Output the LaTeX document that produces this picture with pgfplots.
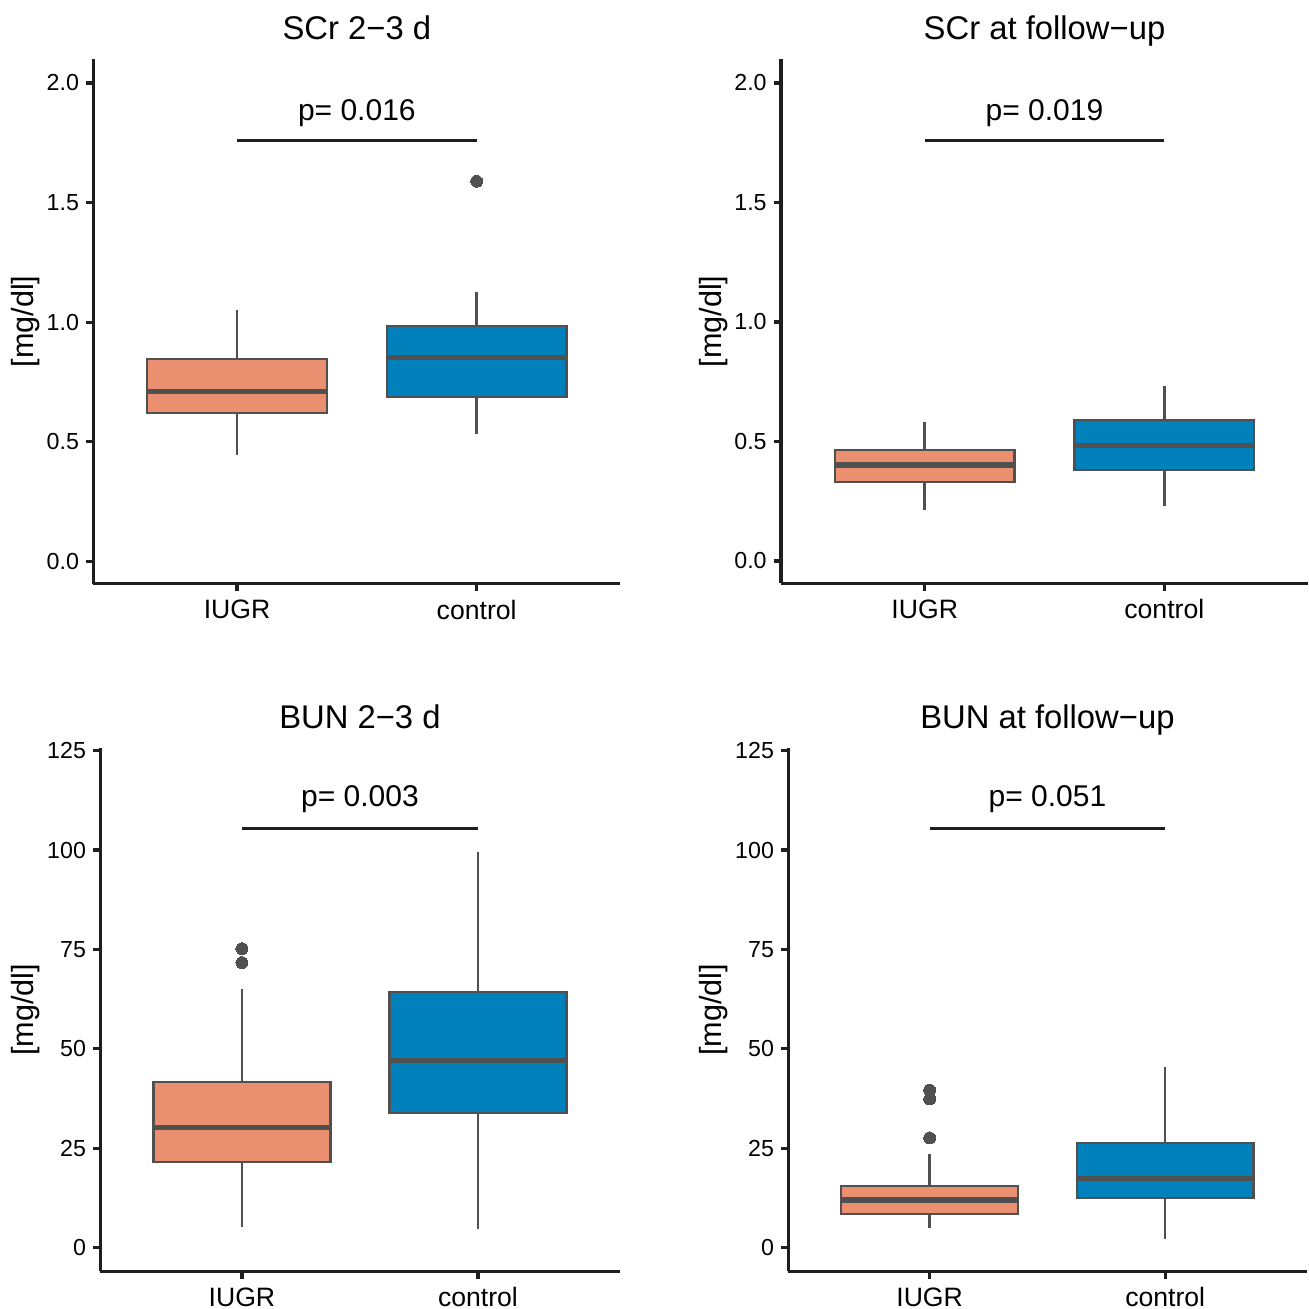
\documentclass[border=0pt]{standalone}
\usepackage{fontspec}
\setmainfont{Liberation Sans}
\usepackage{pgfplots}
\pgfplotsset{compat=1.18}
\usepgfplotslibrary{statistics}
\definecolor{iugr}{RGB}{234,143,111}
\definecolor{ctrl}{RGB}{0,129,188}
\definecolor{gr}{RGB}{80,80,80}
\definecolor{ax}{RGB}{30,30,30}
\pgfplotsset{
  boxplot/every whisker/.style={line width=1.3pt, draw=gr},
  boxplot/every median/.style={line width=2.7pt, draw=gr},
  panel/.style={
    scale only axis, clip=false, anchor=south west,
    axis x line*=bottom, axis y line*=left,
    axis line style={ax, line width=1.6pt, -},
    xmin=0.4, xmax=2.6, xtick={1,2}, xticklabels={IUGR,control},
    tick align=outside, major tick length=3.65pt,
    tick style={ax, line width=1.6pt},
    xticklabel style={font=\fontsize{13.3}{15}\selectfont, text=black, yshift=-1pt},
    yticklabel style={font=\fontsize{11.6}{14}\selectfont, text=black},
    boxplot/draw direction=y,
  },
  bx/.style={draw=gr, line width=1.1pt, mark=*, mark size=3pt,
    mark options={draw=gr, fill=gr, line width=0pt}},
}
\tikzset{
  ttl/.style={anchor=base, font=\fontsize{16.4}{19}\selectfont},
  pv/.style={anchor=base, font=\fontsize{15}{18}\selectfont},
  yl/.style={rotate=90, anchor=base, font=\fontsize{15.3}{18}\selectfont},
}
\begin{document}
\begin{tikzpicture}
\useasboundingbox (0,0) rectangle (654.5pt,654.5pt);
% ---------- SCr 2-3 d ----------
\begin{axis}[panel, at={(46.65pt,362.65pt)}, width=263.55pt, height=262.2pt,
  ymin=-0.0936, ymax=2.099, ytick={0,0.5,1,1.5,2}, yticklabels={0.0,0.5,1.0,1.5,2.0}]
\addplot[bx, fill=iugr, boxplot prepared={draw direction=y, draw position=1, box extend=0.75, whisker extend=0,
  every whisker/.style={line width=1.3pt, draw=gr},
  lower whisker=0.445, lower quartile=0.620, median=0.709, upper quartile=0.846, upper whisker=1.050}] coordinates {};
\addplot[bx, fill=ctrl, boxplot prepared={draw direction=y, draw position=2, box extend=0.75, whisker extend=0,
  every whisker/.style={line width=1.3pt, draw=gr},
  lower whisker=0.533, lower quartile=0.688, median=0.852, upper quartile=0.984, upper whisker=1.128}]
  table[row sep=\\, y index=0] {data\\ 1.589\\};
\addplot[ax, line width=1.4pt] coordinates {(1,1.758) (2,1.758)};
\node[pv] at (axis cs:1.5,1.844) {p= 0.016};
\node[ttl] at (rel axis cs:0.5,1) [yshift=10pt] {SCr 2−3 d};
\end{axis}
% ---------- SCr at follow-up ----------
\begin{axis}[panel, at={(390.5pt,362.85pt)}, width=263.5pt, height=262pt,
  ymin=-0.0936, ymax=2.099, ytick={0,0.5,1,1.5,2}, yticklabels={0.0,0.5,1.0,1.5,2.0}]
\addplot[bx, fill=iugr, boxplot prepared={draw direction=y, draw position=1, box extend=0.75, whisker extend=0,
  every whisker/.style={line width=1.3pt, draw=gr},
  lower whisker=0.214, lower quartile=0.329, median=0.402, upper quartile=0.464, upper whisker=0.582}] coordinates {};
\addplot[bx, fill=ctrl, boxplot prepared={draw direction=y, draw position=2, box extend=0.75, whisker extend=0,
  every whisker/.style={line width=1.3pt, draw=gr},
  lower whisker=0.229, lower quartile=0.381, median=0.482, upper quartile=0.591, upper whisker=0.731}] coordinates {};
\addplot[ax, line width=1.4pt] coordinates {(1,1.758) (2,1.758)};
\node[pv] at (axis cs:1.5,1.844) {p= 0.019};
\node[ttl] at (rel axis cs:0.5,1) [yshift=10pt] {SCr at follow−up};
\end{axis}
% ---------- BUN 2-3 d ----------
\begin{axis}[panel, at={(50.15pt,18.85pt)}, width=259.65pt, height=261.5pt,
  ymin=-5.94, ymax=125.6, ytick={0,25,50,75,100,125}, yticklabels={0,25,50,75,100,125}]
\addplot[bx, fill=iugr, boxplot prepared={draw direction=y, draw position=1, box extend=0.75, whisker extend=0,
  every whisker/.style={line width=1.3pt, draw=gr},
  lower whisker=5.3, lower quartile=21.5, median=30.3, upper quartile=41.7, upper whisker=65.0}]
  table[row sep=\\, y index=0] {data\\ 71.7\\ 75.2\\};
\addplot[bx, fill=ctrl, boxplot prepared={draw direction=y, draw position=2, box extend=0.75, whisker extend=0,
  every whisker/.style={line width=1.3pt, draw=gr},
  lower whisker=4.6, lower quartile=33.8, median=47.1, upper quartile=64.3, upper whisker=99.6}] coordinates {};
\addplot[ax, line width=1.4pt] coordinates {(1,105.5) (2,105.5)};
\node[pv] at (axis cs:1.5,110.9) {p= 0.003};
\node[ttl] at (rel axis cs:0.5,1) [yshift=10pt] {BUN 2−3 d};
\end{axis}
% ---------- BUN at follow-up ----------
\begin{axis}[panel, at={(394.15pt,18.85pt)}, width=259.1pt, height=261.5pt,
  ymin=-5.94, ymax=125.6, ytick={0,25,50,75,100,125}, yticklabels={0,25,50,75,100,125}]
\addplot[bx, fill=iugr, boxplot prepared={draw direction=y, draw position=1, box extend=0.75, whisker extend=0,
  every whisker/.style={line width=1.3pt, draw=gr},
  lower whisker=4.95, lower quartile=8.5, median=12.0, upper quartile=15.5, upper whisker=23.5}]
  table[row sep=\\, y index=0] {data\\ 27.6\\ 37.4\\ 39.6\\};
\addplot[bx, fill=ctrl, boxplot prepared={draw direction=y, draw position=2, box extend=0.75, whisker extend=0,
  every whisker/.style={line width=1.3pt, draw=gr},
  lower whisker=2.2, lower quartile=12.4, median=17.4, upper quartile=26.4, upper whisker=45.4}] coordinates {};
\addplot[ax, line width=1.4pt] coordinates {(1,105.5) (2,105.5)};
\node[pv] at (axis cs:1.5,110.9) {p= 0.051};
\node[ttl] at (rel axis cs:0.5,1) [yshift=10pt] {BUN at follow−up};
\end{axis}
% ---------- y labels ----------
\node[yl] at (16.65pt,493.75pt) {[mg/dl]};
\node[yl] at (360.6pt,493.75pt) {[mg/dl]};
\node[yl] at (16.65pt,149.6pt) {[mg/dl]};
\node[yl] at (360.6pt,149.6pt) {[mg/dl]};
\end{tikzpicture}
\end{document}
